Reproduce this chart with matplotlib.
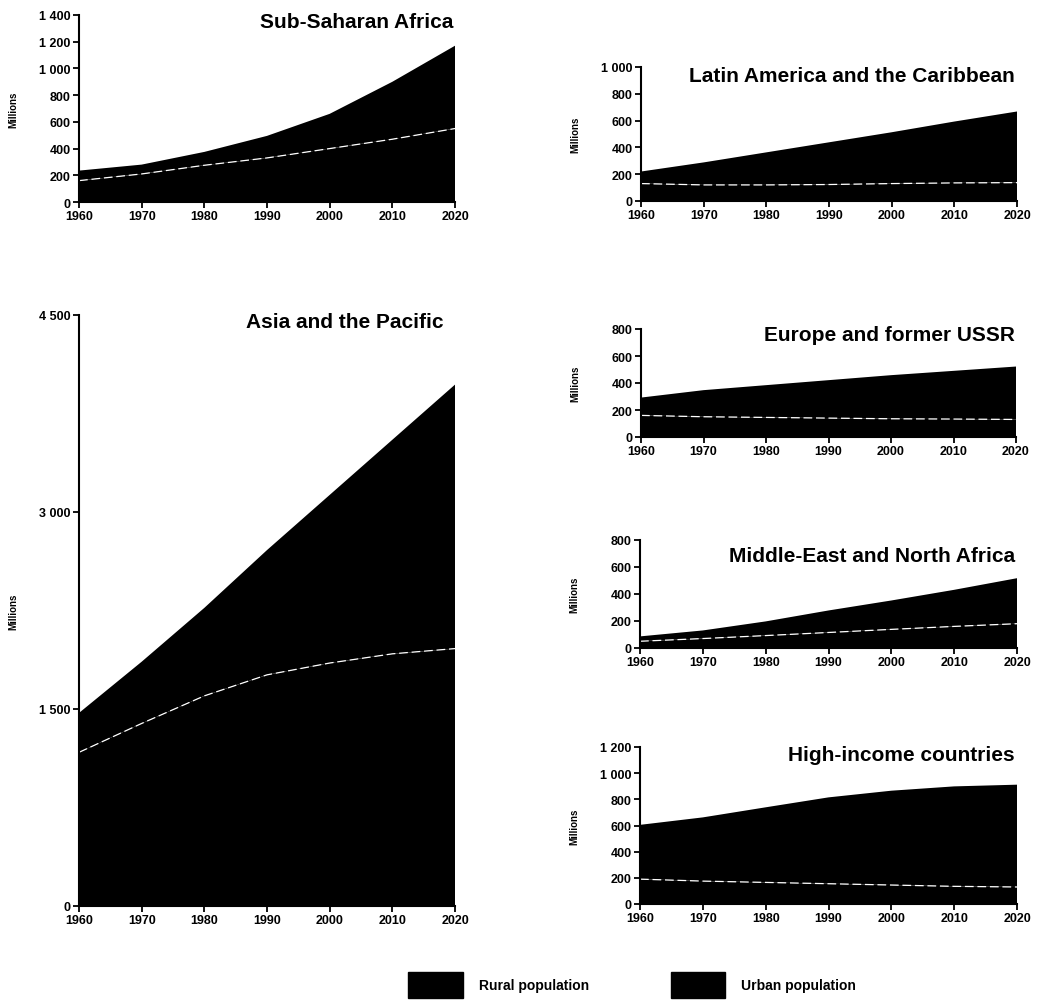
import matplotlib
matplotlib.use("Agg")
import matplotlib.pyplot as plt
from matplotlib.patches import Patch
from matplotlib.ticker import FuncFormatter

plt.rcParams['font.family'] = ['Liberation Sans', 'DejaVu Sans']
plt.rcParams['font.weight'] = 'bold'

years = [1960, 1970, 1980, 1990, 2000, 2010, 2020]

# rural population and total (rural + urban), millions
ssa_rural = [160, 210, 275, 330, 400, 470, 550]
ssa_total = [235, 280, 375, 495, 660, 900, 1170]
lac_rural = [130, 120, 120, 123, 130, 135, 137]
lac_total = [220, 288, 363, 438, 513, 593, 668]
asia_rural = [1170, 1390, 1600, 1760, 1850, 1920, 1960]
asia_total = [1470, 1860, 2270, 2710, 3130, 3550, 3970]
eur_rural = [160, 150, 145, 140, 135, 133, 130]
eur_total = [292, 347, 384, 421, 458, 490, 522]
mena_rural = [50, 70, 92, 115, 138, 160, 180]
mena_total = [86, 130, 197, 278, 352, 431, 517]
hic_rural = [190, 175, 165, 155, 145, 135, 130]
hic_total = [605, 662, 739, 815, 866, 899, 912]

W, H = 1039, 1004

def px_axes(x0, x1, y0, ytop):
    # pixel box (y measured from the top) -> figure fraction rect
    return [x0 / W, 1 - y0 / H, (x1 - x0) / W, (y0 - ytop) / H]

panels = [
    # title, rural, total, y max, tick step, rect, title position
    ("Sub-Saharan Africa", ssa_rural, ssa_total, 1400, 200, px_axes(79, 455, 203, 16), (453, 22)),
    ("Latin America and the Caribbean", lac_rural, lac_total, 1000, 200, px_axes(641, 1017, 202, 68), (1015, 77)),
    ("Asia and the Pacific", asia_rural, asia_total, 4500, 1500, px_axes(79, 455, 907, 316), (443, 323)),
    ("Europe and former USSR", eur_rural, eur_total, 800, 200, px_axes(641, 1016, 438, 330), (1015, 336)),
    ("Middle-East and North Africa", mena_rural, mena_total, 800, 200, px_axes(640, 1017, 649, 541), (1015, 557)),
    ("High-income countries", hic_rural, hic_total, 1200, 200, px_axes(640, 1017, 905, 748), (1015, 756)),
]

fmt = FuncFormatter(lambda v, p: f"{int(v):,}".replace(",", " "))

fig = plt.figure(figsize=(W / 100, H / 100), dpi=100)

for title, rural, total, ymax, step, rect, (tx, ty) in panels:
    ax = fig.add_axes(rect)
    urban = [t - r for t, r in zip(total, rural)]
    ax.stackplot(years, rural, urban, colors=['black', 'black'], linewidth=0)
    ax.plot(years, rural, color='white', lw=0.9, ls=(0, (7, 3)))
    ax.set_xlim(1960, 2020)
    ax.set_ylim(0, ymax)
    ax.set_xticks(years)
    ax.set_yticks(range(0, ymax + 1, step))
    ax.yaxis.set_major_formatter(fmt)
    ax.tick_params(axis='both', labelsize=9, length=4, width=1.3, direction='out', pad=2)
    for lab in ax.get_xticklabels() + ax.get_yticklabels():
        lab.set_fontweight('bold')
    for s in ['top', 'right']:
        ax.spines[s].set_visible(False)
    for s in ['left', 'bottom']:
        ax.spines[s].set_linewidth(1.5)
    ax.set_ylabel("Millions", fontsize=7, fontweight='bold')
    ax.yaxis.set_label_coords(-0.162, 0.5)
    fig.text(tx / W, 1 - ty / H, title, ha='right', va='center', fontsize=15, fontweight='bold')

handles = [Patch(facecolor='black', edgecolor='black', label='Rural population'),
           Patch(facecolor='black', edgecolor='black', label='Urban population')]
fig.legend(handles=handles, loc='center', bbox_to_anchor=(632 / W, 1 - 986 / H), ncol=2, frameon=False,
           prop={'size': 10, 'weight': 'bold'}, handlelength=3.9, handleheight=2.4,
           handletextpad=1.15, columnspacing=5.9)

fig.savefig("out.png", dpi=100, facecolor='white')
